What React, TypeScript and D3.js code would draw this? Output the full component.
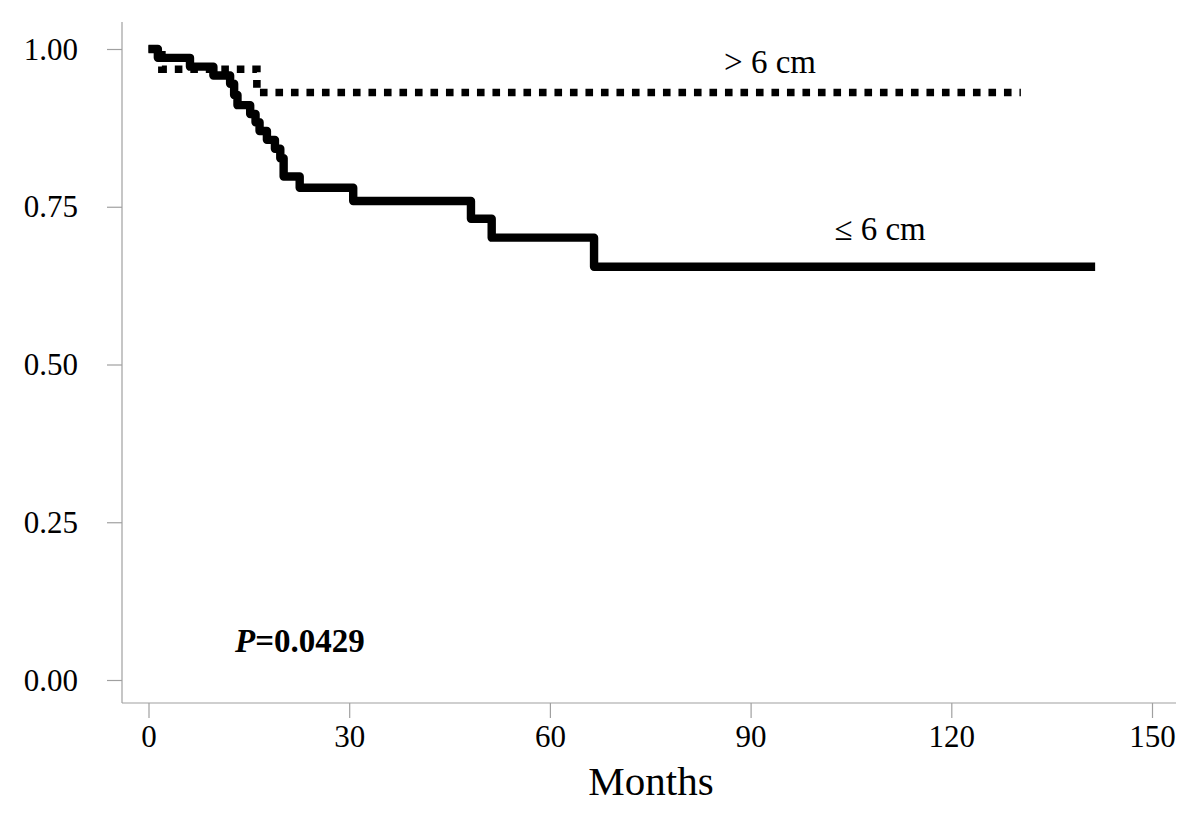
import React, { useEffect, useRef } from 'react'
import * as d3 from 'd3'

// Kaplan-Meier steps (months, survival)
const smallMonths = [0, 1.4, 6.2, 9.7, 12.2, 12.8, 13.3, 15.2, 16.0, 16.6, 17.7, 18.9, 19.7, 20.2, 22.6, 30.6, 48.2, 51.3, 66.6, 141.5]
const smallSurv = [1.0, 0.986, 0.972, 0.958, 0.945, 0.927, 0.911, 0.897, 0.884, 0.870, 0.856, 0.842, 0.827, 0.798, 0.780, 0.759, 0.731, 0.701, 0.655, 0.655]
const largeMonths = [0, 2.0, 16.2, 130.4]
const largeSurv = [1.0, 0.968, 0.931, 0.931]

const xTicks = [0, 30, 60, 90, 120, 150]
const yTicks = [0, 0.25, 0.5, 0.75, 1]

const W = 1200
const H = 814
const FONT = '"Liberation Serif", "Times New Roman", serif'

export default function App () {
  const ref = useRef<SVGSVGElement>(null)

  useEffect(() => {
    const svg = d3.select(ref.current)
    svg.selectAll('*').remove()

    const x = d3.scaleLinear().domain([0, 150]).range([148.5, 1152])
    const y = d3.scaleLinear().domain([0, 1]).range([680, 49])

    const axisX = 122
    const axisY = 703
    const grey = '#a0a0a0'

    // axis lines
    svg.append('line')
      .attr('x1', axisX).attr('x2', axisX)
      .attr('y1', 22).attr('y2', axisY)
      .attr('stroke', grey).attr('stroke-width', 1.2)
    svg.append('line')
      .attr('x1', axisX).attr('x2', 1176)
      .attr('y1', axisY).attr('y2', axisY)
      .attr('stroke', grey).attr('stroke-width', 1.2)

    const gy = svg.append('g')
      .attr('transform', 'translate(' + axisX + ',0)')
      .call(d3.axisLeft(y).tickValues(yTicks).tickFormat(d3.format('.2f')).tickSize(15).tickPadding(29))
    gy.select('.domain').remove()
    gy.selectAll('line').attr('stroke', grey).attr('stroke-width', 1.2)
    gy.selectAll('text')
      .attr('font-family', FONT).attr('font-size', 31).attr('fill', '#000')
      .attr('dy', '0.33em')

    const gx = svg.append('g')
      .attr('transform', 'translate(0,' + axisY + ')')
      .call(d3.axisBottom(x).tickValues(xTicks).tickFormat(d3.format('d')).tickSize(15).tickPadding(7))
    gx.select('.domain').remove()
    gx.selectAll('line').attr('stroke', grey).attr('stroke-width', 1.2)
    gx.selectAll('text')
      .attr('font-family', FONT).attr('font-size', 31).attr('fill', '#000')

    const step = d3.line().curve(d3.curveStepAfter)

    // > 6 cm, dotted
    const largePts = largeMonths.map((m, i) => [x(m), y(largeSurv[i])] as [number, number])
    svg.append('path')
      .attr('d', step(largePts))
      .attr('fill', 'none')
      .attr('stroke', '#000')
      .attr('stroke-width', 7.6)
      .attr('stroke-dasharray', '7.6,7.9')

    // <= 6 cm, solid
    const smallPts = smallMonths.map((m, i) => [x(m), y(smallSurv[i])] as [number, number])
    svg.append('path')
      .attr('d', step(smallPts))
      .attr('fill', 'none')
      .attr('stroke', '#000')
      .attr('stroke-width', 8.4)
      .attr('stroke-linejoin', 'round')

    // labels
    svg.append('text')
      .attr('x', 770).attr('y', 73)
      .attr('text-anchor', 'middle')
      .attr('font-family', FONT).attr('font-size', 33)
      .text('> 6 cm')
    svg.append('text')
      .attr('x', 880).attr('y', 240)
      .attr('text-anchor', 'middle')
      .attr('font-family', FONT).attr('font-size', 33)
      .text('≤ 6 cm')

    const p = svg.append('text')
      .attr('x', 235).attr('y', 652)
      .attr('font-family', FONT).attr('font-size', 33).attr('font-weight', 'bold')
    p.append('tspan').attr('font-style', 'italic').text('P')
    p.append('tspan').text('=0.0429')

    svg.append('text')
      .attr('x', 651).attr('y', 795)
      .attr('text-anchor', 'middle')
      .attr('font-family', FONT).attr('font-size', 41)
      .text('Months')
  }, [])

  return (
    <svg ref={ref} width={W} height={H}
      style={{ position: 'absolute', left: 0, top: 0, background: '#fff' }} />
  )
}
